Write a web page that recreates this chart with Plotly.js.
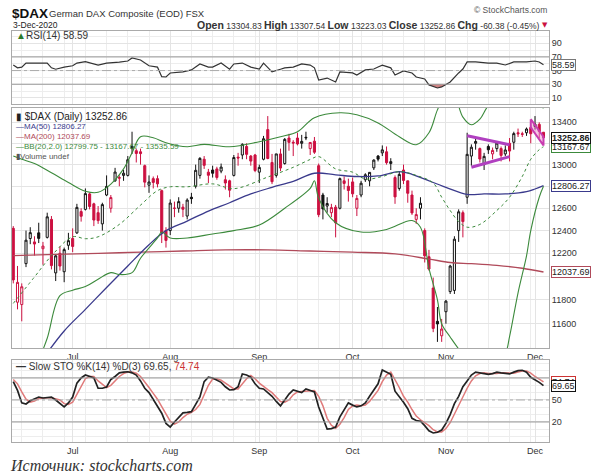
<!DOCTYPE html>
<html><head><meta charset="utf-8">
<script src="https://cdn.plot.ly/plotly-3.0.1.min.js"></script>
<style>body{margin:0;background:#fff}#chart{width:600px;height:474px}</style>
</head><body><div id="chart"></div>
<script>
// ---------- DATA ----------
const months = ['Jul','Aug','Sep','Oct','Nov','Dec'];
const monthStarts = ['07-01','08-03','09-01','10-01','11-02','12-01'];
const priceTicks = [11600,11800,12000,12200,12400,12600,12800,13000,13200,13400];
const priceTickText = ['11600','11800','','12200','12400','12600','','13000','','13400']; // hidden ones sit under the value tags
const rsiTicks = [10,30,50,70,90];
const stoTicks = [20,50,80];
const stoTickText = ['20','50',''];
const prevClose = 12530; // close before the first day shown

const opens = [12420,11780,11760,12110,12330,12300,12380,12240,12340,12500,12030,12200,12040,12270,
12330,12380,12570,12590,12730,12640,12560,12460,12720,12600,12850,12880,12900,12900,13150,13130,13120,12990,12810,12870,12870,12760,12400,
12400,12600,12600,12610,12530,12700,12800,12900,13050,12930,12950,12960,12940,12860,12850,12900,13070,13090,13170,13080,13090,
12930,13050,13330,13020,12900,13100,13010,13250,13210,13250,13200,13250,13150,13220,12990,12720,12620,12560,12610,12600,12850,12800,
12840,12600,12720,12860,12850,12970,13080,13110,13120,13010,12880,12780,12950,12850,12720,12500,12600,12400,12170,11900,11620,11500,
11700,11870,11880,12400,12560,12700,13080,13200,13150,13000,13170,13100,13150,13150,13100,13200,13210,13300,13290,13300,13350,
13360,13380,13304.83];
const highs = [12440,12090,11940,12400,12430,12350,12470,12300,12560,12530,12190,12260,12250,12380,
12420,12640,12600,12780,12740,12650,12620,12650,12900,12720,12970,12900,12950,13080,13310,13150,13150,13000,12900,12890,12900,12770,12430,
12680,12660,12700,12640,12690,12740,13000,13070,13080,12960,12990,12980,13010,12900,12860,13090,13110,13200,13200,13090,13100,
13000,13270,13460,13100,13100,13150,13250,13290,13230,13300,13280,13310,13210,13260,13010,12740,12700,12640,12630,12880,12890,12870,
12880,12720,12850,12920,12930,13050,13090,13180,13170,13060,12900,12940,13000,12850,12760,12600,12700,12420,12230,11990,11740,11640,
11800,12100,12350,12590,12580,13300,13190,13250,13160,13110,13190,13160,13220,13170,13180,13250,13310,13340,13310,13350,13370,
13460,13400,13307.54];
const lows = [11940,11720,11620,12080,12280,12180,12290,12100,12330,12060,11960,12050,11950,12230,
12210,12370,12480,12580,12590,12440,12460,12400,12710,12560,12840,12800,12850,12890,13100,13020,13000,12790,12740,12780,12790,12290,12250,
12360,12520,12560,12520,12500,12640,12780,12870,12960,12830,12880,12860,12920,12770,12700,12890,12990,13050,13050,12990,12930,
12830,13040,13050,12820,12880,12940,13000,13130,13080,13180,13150,13230,13090,13100,12520,12500,12560,12520,12340,12590,12770,12660,
12700,12530,12700,12840,12800,12950,13030,13080,13000,12950,12640,12760,12820,12650,12540,12460,12500,12120,12050,11530,11450,11450,
11600,11850,11850,12300,12340,12640,12990,13140,13020,12950,13100,13050,13120,13030,13080,13030,13140,13260,13260,13270,13200,
13330,13250,13223.03];
const closes = [11970,11949,11911,12315,12382,12281,12331,12263,12523,12093,12178,12089,12232,12311,
12260,12608,12528,12733,12616,12494,12489,12633,12799,12697,12931,12875,12920,13046,13171,13104,13103,12838,12839,12835,12822,12379,12313,
12647,12600,12660,12591,12674,12687,12947,13058,12993,12901,12920,12881,12977,12830,12764,13066,13062,13190,13096,13033,12945,
12974,13243,13057,12842,13100,12968,13237,13209,13203,13194,13218,13256,13208,13116,12542,12594,12643,12606,12469,12870,12826,12761,
12731,12689,12828,12906,12928,13042,13051,13138,13018,13028,12703,12909,12854,12736,12558,12543,12645,12178,12063,11561,11598,11556,
11789,12089,12324,12568,12480,13096,13163,13217,13052,13077,13139,13133,13202,13086,13137,13127,13292,13290,13286,13336,13291,
13382,13313.24,13252.86];

const ma50Dates = ['06-23','06-29','07-06','07-13','07-20','07-27','07-31','08-07','08-14','08-21','08-28','09-04','09-11','09-18','09-25','10-02','10-09','10-16','10-21','10-26','11-02','11-09','11-13','11-20','11-27','12-01','12-03'];
const ma50Vals = [11360,11540,11720,11905,12090,12275,12400,12485,12575,12650,12730,12790,12845,12920,12905,12890,12895,12935,12910,12865,12790,12725,12730,12730,12750,12775,12806.27];
const ma200Dates = ['06-11','06-25','07-09','07-23','08-06','08-20','09-03','09-17','10-01','10-15','10-27','11-03','11-10','11-18','11-26','12-03'];
const ma200Vals = [12180,12190,12200,12210,12220,12230,12230,12220,12210,12195,12150,12120,12110,12095,12070,12037.69];
const bbUpDates = ['06-11','06-15','06-18','06-24','06-30','07-06','07-09','07-14','07-17','07-21','07-23','07-28','07-31','08-07','08-13','08-21','09-01','09-08','09-14','09-18','09-28','10-02','10-09','10-16','10-22','10-27','10-29','11-02','11-04','11-06','11-10','11-12','11-16','11-20','11-26','12-03'];
const bbUpVals = [13080,13050,13010,12925,12835,12755,12745,12820,12960,13110,13262,13253,13206,13168,13190,13168,13215,13262,13309,13444,13492,13472,13394,13262,13187,13300,13520,13680,13650,13450,13376,13430,13560,13680,13650,13535.59];
const bbLoDates = ['06-19','06-23','06-26','07-01','07-06','07-09','07-14','07-16','07-21','07-23','07-29','07-30','08-03','08-07','08-17','08-24','09-01','09-09','09-17','09-18','09-21','09-25','10-05','10-13','10-21','10-23','10-27','10-29','10-30','11-03','11-06','11-16','11-20','11-23','11-25','11-27','11-30','12-02','12-03'];
const bbLoVals = [11300,11480,11835,11882,11913,11976,12032,12016,12032,12157,12335,12387,12335,12335,12370,12400,12450,12600,12780,12850,12690,12470,12387,12410,12490,12430,12070,11800,11600,11490,11350,11150,11350,11493,11860,12178,12400,12700,12799.75];
const bbMidDates = ['06-11','06-18','06-24','07-01','07-06','07-09','07-16','07-23','07-29','08-03','08-07','08-17','08-24','09-03','09-11','09-17','09-21','09-25','10-01','10-06','10-12','10-16','10-22','10-28','10-30','11-03','11-05','11-09','11-12','11-18','11-23','11-26','11-30','12-02','12-03'];
const bbMidVals = [11770,11995,12178,12345,12328,12345,12455,12628,12760,12795,12795,12822,12778,12885,12975,13048,13075,12960,12930,12867,12890,12935,12900,12830,12700,12580,12480,12430,12455,12580,12700,12890,13050,13140,13167.67];

const rsiDates = ['06-11','06-12','06-15','06-16','06-18','06-23','06-24','06-25','06-29','07-01','07-02','07-06','07-09','07-13','07-16','07-20','07-21','07-23','07-27','07-29','07-30','07-31','08-03','08-06','08-10','08-12','08-14','08-17','08-19','08-21','08-24','08-26','08-28','09-01','09-02','09-04','09-08','09-09','09-11','09-15','09-17','09-18','09-21','09-23','09-25','09-28','10-01','10-02','10-06','10-08','10-09','10-12','10-14','10-15','10-19','10-21','10-22','10-26','10-27','10-28','10-29','10-30','11-02','11-03','11-05','11-06','11-09','11-11','11-16','11-18','11-20','11-24','11-26','11-27','12-01','12-02','12-03'];
const rsiVals = [58,54,55,61,61,61,54,52,55,57,61,63,58,61,62.5,64,68.5,65.5,57,55,41,40.6,46.5,48,51,59.7,55,55,61,52,59.7,61,55,52.3,61,48,52,54,55,59.7,58,54,36.2,39,33.3,48,46.5,43.5,51,52.3,55.3,58,54,43.5,49.4,46.5,40.6,37.7,29,27,24.5,26,29.5,33.3,46.5,52.3,62.6,62.6,61,61,58.2,62.6,62.6,62.6,64,62.6,58.59];
const rsiOversoldDates = ['10-27','10-28','10-29','10-30','11-02'];

const stoK = [75,63,46,44.5,49,52,54,52.7,53,54,50,45,40.5,46,
54,73,80,84,82,80,66,66,67.7,78,82,87,88,88.5,87,84,76,66,60,50,42,32,18,
13,20,26,32.5,33,34,44,54,75,81,80,77,74,68,63.6,64,68,85.5,84,81,72,
66,65,60,55,48,42,50,58,63.6,61.5,60,65,63,61,40.5,25,10.4,11,13,27,37,46,
43,40.5,42,46,55,63,72,91,88,85,62,55,47,38,25,22,21,15,8,5,6,9,
18,30,45,55,68,76,84,88,87,86,85,86,88,87,86,85.5,88,90,90.5,88,81,
78,74,69.65];
const stoD = [78,72,61,51,47,48.5,52,53,53,53,52,50,45,44,
47,58,69,79,82,82,76,71,67,70,76,82,86,88,88,86.5,82,75,67,59,51,41,31,
21,17,20,26,30.5,33,37,44,58,70,78.5,79,77,73,68.5,65,65,72.5,79,83.5,79,
73,68,64,60,54,48,47,50,57,61,61.5,62,63,63,55,42,25,15.5,11.5,17,26,37,
42,43,42,43,48,55,63,75,84,88,78,67,55,47,37,28,23,19.5,15,9.5,6.5,6.5,
11,19,31,43,56,66,76,83,86,87,86,85.5,86,87,87,86,86.5,88,89.5,89.5,86.5,
82,78,74.74];

// drawn trend lines (chart annotations)
const triUpDates = ['11-09','11-23'], triUpVals = [13272,13187];
const triLoDates = ['11-10','11-23'], triLoVals = [12975,13075];
const flagDates = ['11-30','12-03','12-03','11-30','11-30'], flagVals = [13430,13262,13180,13350,13430];

// ---------- BUILD ----------
const dates = [];
for (let t = Date.UTC(2020,5,11); t <= Date.UTC(2020,11,3); t += 864e5) {
  const d = new Date(t), w = d.getUTCDay();
  if (w > 0 && w < 6) dates.push(d.toISOString().slice(5,10));
}
const pos = {}; dates.forEach((d,i)=>pos[d]=i);
const X = arr => arr.map(d=>pos[d]);
const mondays = dates.map((d,i)=>i).filter(i=>{const [m,dd]=dates[i].split('-').map(Number);return new Date(Date.UTC(2020,m-1,dd)).getUTCDay()===1;});
const monthIdx = X(monthStarts);

const blackIdx=[], redIdx=[];
closes.forEach((c,i)=>{const p = i ? closes[i-1] : prevClose; (c>=p?blackIdx:redIdx).push(i);});
const pick = (arr, idx) => idx.map(i=>arr[i]);
const RED = '#cc1040';

const traces = [];
// RSI panel
traces.push({type:'scatter',mode:'lines',x:X([rsiOversoldDates[0],rsiOversoldDates[rsiOversoldDates.length-1]]),y:[30,30],line:{width:0},xaxis:'x',yaxis:'y',hoverinfo:'skip'});
traces.push({type:'scatter',mode:'lines',x:X(rsiOversoldDates),y:rsiOversoldDates.map(d=>rsiVals[rsiDates.indexOf(d)]),fill:'tonexty',fillcolor:'rgba(190,90,90,0.75)',line:{width:0},xaxis:'x',yaxis:'y',hoverinfo:'skip'});
traces.push({type:'scatter',mode:'lines',x:X(rsiDates),y:rsiVals,line:{color:'#333',width:1.2},xaxis:'x',yaxis:'y'});
// main panel
traces.push({type:'scatter',mode:'lines',x:X(ma200Dates),y:ma200Vals,line:{color:'#b04a5a',width:1.3,shape:'spline'},xaxis:'x2',yaxis:'y2'});
traces.push({type:'scatter',mode:'lines',x:X(ma50Dates),y:ma50Vals,line:{color:'#3a3a8c',width:1.3,shape:'spline'},xaxis:'x2',yaxis:'y2'});
traces.push({type:'scatter',mode:'lines',x:X(bbUpDates),y:bbUpVals,line:{color:'#3c8a3c',width:1.1,shape:'spline'},xaxis:'x2',yaxis:'y2'});
traces.push({type:'scatter',mode:'lines',x:X(bbLoDates),y:bbLoVals,line:{color:'#3c8a3c',width:1.1,shape:'spline'},xaxis:'x2',yaxis:'y2'});
traces.push({type:'scatter',mode:'lines',x:X(bbMidDates),y:bbMidVals,line:{color:'#3c8a3c',width:1,dash:'dot',shape:'spline'},xaxis:'x2',yaxis:'y2'});
traces.push({type:'scatter',mode:'lines',x:X(flagDates),y:flagVals,fill:'toself',fillcolor:'rgba(235,130,200,0.45)',line:{color:'#c83cb0',width:2},xaxis:'x2',yaxis:'y2'});
traces.push({type:'scatter',mode:'lines',x:X(triUpDates),y:triUpVals,line:{color:'#b040c0',width:3},xaxis:'x2',yaxis:'y2'});
traces.push({type:'scatter',mode:'lines',x:X(triLoDates),y:triLoVals,line:{color:'#b040c0',width:3},xaxis:'x2',yaxis:'y2'});
traces.push({type:'candlestick',x:blackIdx,open:pick(opens,blackIdx),high:pick(highs,blackIdx),low:pick(lows,blackIdx),close:pick(closes,blackIdx),
  increasing:{line:{color:'#111',width:1},fillcolor:'#ffffff'},decreasing:{line:{color:'#111',width:1},fillcolor:'#111'},whiskerwidth:0,xaxis:'x2',yaxis:'y2'});
traces.push({type:'candlestick',x:redIdx,open:pick(opens,redIdx),high:pick(highs,redIdx),low:pick(lows,redIdx),close:pick(closes,redIdx),
  increasing:{line:{color:RED,width:1},fillcolor:'#ffffff'},decreasing:{line:{color:RED,width:1},fillcolor:RED},whiskerwidth:0,xaxis:'x2',yaxis:'y2'});
// STO panel
traces.push({type:'scatter',mode:'lines',x:dates.map((d,i)=>i),y:stoD,line:{color:'#e07a7a',width:1.5},xaxis:'x3',yaxis:'y3'});
traces.push({type:'scatter',mode:'lines',x:dates.map((d,i)=>i),y:stoK,line:{color:'#222',width:1.7},xaxis:'x3',yaxis:'y3'});

// ---------- LAYOUT ----------
const H = 474, W = 600;
const yd = (top,bot)=>[1-bot/H, 1-top/H];
const xdom = [12/W, 549/W];
const xr = [-0.3, 126.3];
const gridC = '#e4e4e4';
const tickFont = {family:'Liberation Sans, Arial, sans-serif', size:9, color:'#333'};
const xbase = (showLabels)=>({domain:xdom, range:xr, showgrid:true, gridcolor:gridC, tickvals:monthIdx, ticktext:months,
  showticklabels:showLabels, ticks:'', tickfont:tickFont, showline:true, mirror:true, linecolor:'#aaa', zeroline:false, fixedrange:true,
  minor:{tickvals:mondays, showgrid:true, gridcolor:'#ededed', ticks:''}});
const ybase = {side:'right', showgrid:true, gridcolor:gridC, ticks:'', tickfont:tickFont, showline:true, mirror:true, linecolor:'#aaa', zeroline:false, fixedrange:true};

const layout = {
  width:W, height:H, margin:{l:0,r:0,t:0,b:0}, paper_bgcolor:'#fff', plot_bgcolor:'#fff', showlegend:false,
  font:{family:'Liberation Sans, Arial, sans-serif', size:9, color:'#222'},
  xaxis: Object.assign(xbase(false), {anchor:'y'}),
  yaxis: Object.assign({}, ybase, {domain:yd(31,104), range:[1,108], tickvals:rsiTicks, anchor:'x',
    minor:{tickvals:[20,40,60,80,100], showgrid:true, gridcolor:'#ededed', ticks:''}}),
  xaxis2: Object.assign(xbase(true), {anchor:'y2', rangeslider:{visible:false}}),
  yaxis2: Object.assign({}, ybase, {domain:yd(108,348), type:'log', range:[Math.log10(11400), Math.log10(13538)], tickvals:priceTicks, ticktext:priceTickText, anchor:'x2'}),
  xaxis3: Object.assign(xbase(true), {anchor:'y3'}),
  yaxis3: Object.assign({}, ybase, {domain:yd(360,442), range:[-7.3,104.5], tickvals:stoTicks, ticktext:stoTickText, anchor:'x3',
    minor:{tickvals:[0,10,30,40,60,70,90,100], showgrid:true, gridcolor:'#ededed', ticks:''}}),
  boxmode:'overlay',
  shapes:[
    {type:'line',xref:'paper',x0:xdom[0],x1:xdom[1],yref:'y',y0:70,y1:70,line:{color:'#999',width:1}},
    {type:'line',xref:'paper',x0:xdom[0],x1:xdom[1],yref:'y',y0:30,y1:30,line:{color:'#999',width:1}},
    {type:'line',xref:'paper',x0:xdom[0],x1:xdom[1],yref:'y',y0:50,y1:50,line:{color:'#aaa',width:1,dash:'dashdot'}},
    {type:'line',xref:'paper',x0:xdom[0],x1:xdom[1],yref:'y3',y0:80,y1:80,line:{color:'#999',width:1}},
    {type:'line',xref:'paper',x0:xdom[0],x1:xdom[1],yref:'y3',y0:20,y1:20,line:{color:'#999',width:1}},
    {type:'line',xref:'paper',x0:xdom[0],x1:xdom[1],yref:'y3',y0:50,y1:50,line:{color:'#aaa',width:1,dash:'dashdot'}}
  ],
  annotations:[]
};

const A = layout.annotations;
const P = (xp, yp) => ({x:xp/W, y:1-yp/H});
function txt(xp, yp, text, opts) {
  A.push(Object.assign({xref:'paper', yref:'paper', showarrow:false, xanchor:'left', yanchor:'middle', text:text,
    font:{family:'Liberation Sans, Arial, sans-serif', size:9, color:'#222'}}, P(xp,yp), opts||{}));
}
// header
txt(10, 13, '<b>$DAX</b>', {font:{family:'Liberation Sans, Arial, sans-serif', size:13.5, color:'#111'}});
txt(47, 14, 'German DAX Composite (EOD) FSX', {font:{family:'Liberation Sans, Arial, sans-serif', size:9.5, color:'#333'}});
txt(11, 25, '3-Dec-2020', {font:{family:'Liberation Sans, Arial, sans-serif', size:8.5, color:'#222'}});
txt(549, 10, '© StockCharts.com', {xanchor:'right', font:{family:'Liberation Sans, Arial, sans-serif', size:8.5, color:'#555'}});
const last = closes.length-1, chg = closes[last]-closes[last-1];
const L = s => '<b><span style="font-size:10.5px">' + s + '</span></b>';
txt(542, 25, L('Open') + ' ' + opens[last].toFixed(2) + ' ' + L('High') + ' ' + highs[last].toFixed(2) + ' ' + L('Low') + ' ' + lows[last].toFixed(2) +
  ' ' + L('Close') + ' ' + closes[last].toFixed(2) + ' ' + L('Chg') + ' ' + chg.toFixed(2) + ' (' + (chg/closes[last-1]*100).toFixed(2) + '%)',
  {xanchor:'right', font:{family:'Liberation Sans, Arial, sans-serif', size:8.5, color:'#333'}});
txt(550, 25, '▼', {xanchor:'right', font:{family:'DejaVu Sans, sans-serif', size:7, color:'#cc1040'}});
// panel legends
txt(14, 36, '<span style="color:#2a7a2a">▲</span>RSI(14) ' + rsiVals[rsiVals.length-1].toFixed(2), {font:{family:'Liberation Sans, Arial, sans-serif', size:10, color:'#333'}});
txt(14, 117, '▮ $DAX (Daily) ' + closes[last].toFixed(2), {font:{family:'Liberation Sans, Arial, sans-serif', size:10, color:'#222'}});
txt(14, 127, '—MA(50) ' + ma50Vals[ma50Vals.length-1].toFixed(2), {font:{family:'Liberation Sans, Arial, sans-serif', size:8, color:'#3a3a8c'}});
txt(14, 136, '—MA(200) ' + ma200Vals[ma200Vals.length-1].toFixed(2), {font:{family:'Liberation Sans, Arial, sans-serif', size:8, color:'#b04a5a'}});
txt(14, 146, '—BB(20,2.0) ' + bbLoVals[bbLoVals.length-1].toFixed(2) + ' - ' + bbMidVals[bbMidVals.length-1].toFixed(2) + ' - ' + bbUpVals[bbUpVals.length-1].toFixed(2), {font:{family:'Liberation Sans, Arial, sans-serif', size:8, color:'#3c8a3c'}});
txt(14, 156, '▮Volume undef', {font:{family:'Liberation Sans, Arial, sans-serif', size:8, color:'#555'}});
txt(14, 366, '<b>—</b> Slow STO %K(14) %D(3) ' + stoK[last].toFixed(2) + ', <span style="color:#cc3333">' + stoD[last].toFixed(2) + '</span>', {font:{family:'Liberation Sans, Arial, sans-serif', size:10, color:'#333'}});
// value tags
function tag(yref, yval, text, color, bold) {
  A.push({xref:'paper', yref:yref, x:549/W + 0.004, y:yval, xanchor:'left', yanchor:'middle', showarrow:false,
    text: bold ? '<b>'+text+'</b>' : text, bgcolor:'#fff', bordercolor:color, borderwidth:1, borderpad:0,
    font:{family:'Liberation Sans, Arial, sans-serif', size:9, color:'#222'}});
}
tag('y', rsiVals[rsiVals.length-1], rsiVals[rsiVals.length-1].toFixed(2), '#777');
tag('y2', Math.log10(ma200Vals[ma200Vals.length-1]), ma200Vals[ma200Vals.length-1].toFixed(2), '#b04a5a');
tag('y2', Math.log10(ma50Vals[ma50Vals.length-1]), ma50Vals[ma50Vals.length-1].toFixed(2), '#3a3a8c');
tag('y2', Math.log10(bbMidVals[bbMidVals.length-1]), bbMidVals[bbMidVals.length-1].toFixed(2), '#3c8a3c');
tag('y2', Math.log10(closes[last]), closes[last].toFixed(2), '#111', true);
tag('y3', stoD[last], stoD[last].toFixed(2), '#cc3333');
tag('y3', stoK[last], stoK[last].toFixed(2), '#111');
// source line
txt(8, 465, '<i>Источник: stockcharts.com</i>', {font:{family:'Liberation Serif, Times New Roman, serif', size:16, color:'#333'}});

Plotly.newPlot('chart', traces, layout, {displayModeBar:false, staticPlot:true});
</script></body></html>
